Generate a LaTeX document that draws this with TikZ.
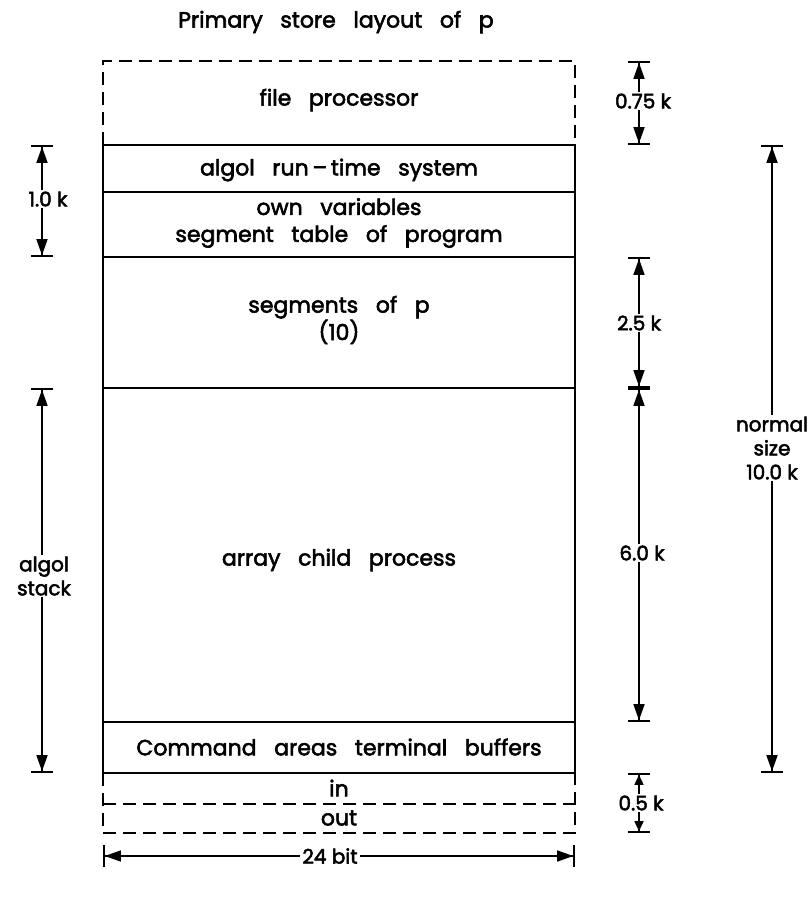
\documentclass[tikz,border=0pt]{standalone}
\usepackage{fontspec}
\setmainfont{Poppins}[WordSpace=3, FakeBold=2.5]
\newfontfamily\dimfont{Poppins}[FakeBold=2.5]
\usetikzlibrary{arrows.meta}

\begin{document}
\begin{tikzpicture}[
    x=1pt, y=-1pt,
    font=\fontsize{22}{27}\selectfont,
    wall/.style={line width=2.6pt},
    dwall/.style={line width=2.2pt, dash pattern=on 13pt off 7pt},
    dimline/.style={line width=1.5pt,
      {Bar[width=22pt,line width=1.8pt]Triangle[length=16pt,width=11pt]}-{Triangle[length=16pt,width=11pt]Bar[width=22pt,line width=1.8pt]}},
    smalldim/.style={line width=1.5pt,
      {Bar[width=22pt,line width=1.8pt]Triangle[length=10pt,width=9pt]}-{Triangle[length=10pt,width=9pt]Bar[width=22pt,line width=1.8pt]}},
    lbl/.style={fill=white, inner sep=2pt, align=center,
      font=\dimfont\fontsize{20}{24}\selectfont},
    area/.style={align=center, inner sep=0pt},
  ]
  \useasboundingbox (0,0) rectangle (811,900);

  \def\xl{103}   % left wall
  \def\xr{575}   % right wall
  \def\xm{339}   % middle

  % ---- dashed parts: file processor and in/out --------------------------------
  \draw[dwall] (\xl,145) -- (\xl,61) -- (\xr,61) -- (\xr,145);
  \draw[dwall] (\xl,773) -- (\xl,833) -- (\xr,833) -- (\xr,773);
  \draw[dwall] (\xl,804) -- (\xr,804);

  % ---- solid part of the store -------------------------------------------------
  \draw[wall] (\xl,145) rectangle (\xr,773);
  \foreach \y in {192,257,388,722}
    \draw[wall] (\xl,\y) -- (\xr,\y);

  % ---- texts in the store ------------------------------------------------------
  \node[area] (title) at (336,22)  {Primary store layout of p};
  \node[area] (fp)    at (\xm,100) {file processor};
  \node[area] (rts)   at (\xm,170) {algol run\,--\,time system};
  \node[area] (own)   at (\xm,223) {own variables\\segment table of program};
  \node[area, font=\fontsize{22}{24}\selectfont] (seg) at (\xm,320)
    {segments of p\\(10)};
  \node[area] (acp)   at (\xm,560) {array child process};
  \node[area] (cmd)   at (\xm,747) {Command areas terminal buffers};
  \node[area] (in)    at (\xm,788) {in};
  \node[area] (out)   at (\xm,818) {out};

  % ---- end points of the measures ---------------------------------------------
  \coordinate (l1) at (42,145);  \coordinate (l2) at (42,257);
  \coordinate (l3) at (42,388);  \coordinate (l4) at (42,773);
  \coordinate (r1) at (639,61);  \coordinate (r2) at (639,145);
  \coordinate (r3) at (639,257); \coordinate (r4) at (639,388);
  \coordinate (r5) at (639,722); \coordinate (r6) at (639,773);
  \coordinate (r7) at (639,833);
  \coordinate (n1) at (772,145); \coordinate (n2) at (772,773);
  \coordinate (b1) at (\xl,856); \coordinate (b2) at (\xr,856);

  % ---- measures -----------------------------------------------------------------
  \draw[dimline] (l1) -- (l2);
  \draw[dimline] (l3) -- (l4);
  \draw[dimline] (r1) -- (r2);
  \draw[dimline] (r3) -- (r4);
  \draw[dimline] (r4) -- (r5);
  \draw[smalldim] (r6) -- (r7);
  \draw[dimline] (n1) -- (n2);
  \draw[dimline] (b1) -- (b2);

  % ---- labels of the measures ---------------------------------------------------
  \node[lbl] (k10)  at (48,199)  {1.0 k};
  \node[lbl] (stk)  at (44,576)  {algol\\stack};
  \node[lbl] (k075) at (643,101) {0.75 k};
  \node[lbl] (k25)  at (639,323) {2.5 k};
  \node[lbl] (k60)  at (642,553) {6.0 k};
  \node[lbl] (k05)  at (641,803) {0.5 k};
  \node[lbl] (norm) at (772,448) {normal\\size\\10.0 k};
  \node[lbl] (bit)  at (330,856) {24 bit};

\end{tikzpicture}
\end{document}
